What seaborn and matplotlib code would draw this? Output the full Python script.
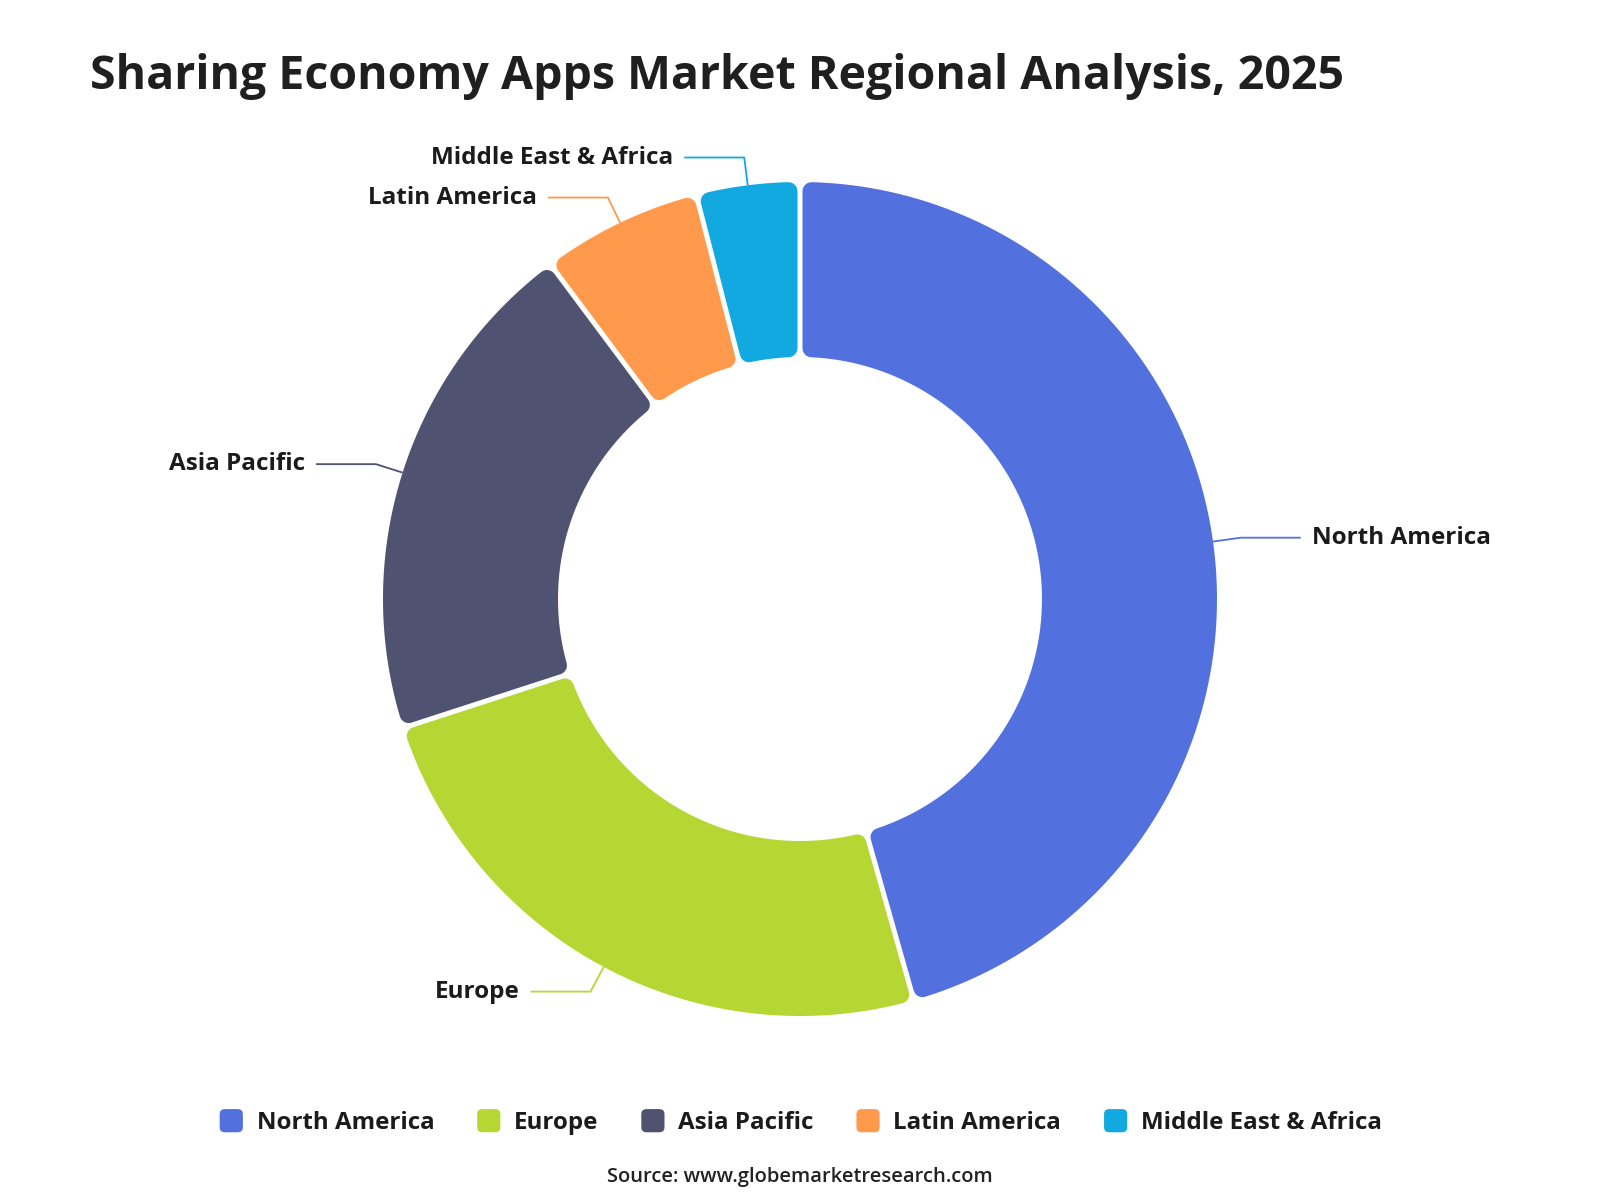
import numpy as np
import matplotlib
matplotlib.use("Agg")
import matplotlib.pyplot as plt
from matplotlib.patches import Polygon, Patch, FancyBboxPatch
from matplotlib.legend_handler import HandlerPatch
import seaborn as sns

# ---------------------------------------------------------------------------
# Data
# ---------------------------------------------------------------------------
TITLE   = "Sharing Economy Apps Market Regional Analysis, 2025"
SOURCE  = "Source: www.globemarketresearch.com"
REGIONS = ["North America", "Europe", "Asia Pacific", "Latin America", "Middle East & Africa"]
SHARES  = [45.6, 24.4, 19.8, 6.2, 4.0]
COLORS  = ["#5271DF", "#B6D733", "#505272", "#FF9A4D", "#11A9E0"]

# ---------------------------------------------------------------------------
# Style / layout (pixel coordinates, 1600x1200 canvas)
# ---------------------------------------------------------------------------
sns.set_theme(style="white")
plt.rcParams["font.family"] = ["Open Sans", "DejaVu Sans"]

CX, CY    = 800, 599
R_OUT     = 417
R_IN      = 242
CORNER    = 9      # corner rounding radius (px)
GAP       = 5      # white gap between slices (px)
LEAD1     = 28     # radial part of leader line
LEAD2     = 60     # horizontal part of leader line
TEXT_DARK = "#1b1b1b"

palette = sns.color_palette(COLORS)


def pt(angle, r):
    """angle in radians, clockwise from 12 o'clock"""
    return CX + r * np.sin(angle), CY - r * np.cos(angle)


def slice_poly(a0, a1):
    # eroded annular sector; the stroke (round joins) grows it back with rounded corners
    e = CORNER + GAP / 2
    ro, ri = R_OUT - CORNER, R_IN + CORNER
    do, di = np.arcsin(e / ro), np.arcsin(e / ri)
    outer = np.linspace(a0 + do, a1 - do, 120)
    inner = np.linspace(a1 - di, a0 + di, 80)
    xs = np.concatenate([CX + ro * np.sin(outer), CX + ri * np.sin(inner)])
    ys = np.concatenate([CY - ro * np.cos(outer), CY - ri * np.cos(inner)])
    return np.column_stack([xs, ys])


fig = plt.figure(figsize=(16, 12), dpi=100)
ax = fig.add_axes([0, 0, 1, 1])
ax.set_xlim(0, 1600)
ax.set_ylim(1200, 0)
ax.axis("off")

fracs = np.array(SHARES) / sum(SHARES)
bounds = np.concatenate([[0], np.cumsum(fracs)]) * 2 * np.pi
lw = 2 * CORNER * 72 / fig.dpi

for name, c, a0, a1 in zip(REGIONS, palette, bounds[:-1], bounds[1:]):
    ax.add_patch(Polygon(slice_poly(a0, a1), closed=True, facecolor=c, edgecolor=c,
                         linewidth=lw, joinstyle="round"))

    # leader line + label
    mid = (a0 + a1) / 2
    x0, y0 = pt(mid, R_OUT)
    x1, y1 = pt(mid, R_OUT + LEAD1)
    side = 1 if np.sin(mid) >= 0 else -1
    x2 = x1 + side * LEAD2
    ax.plot([x0, x1, x2], [y0, y1, y1], color=c, lw=1.3, solid_capstyle="butt")
    ax.text(x2 + side * 11, y1, name, ha="left" if side > 0 else "right", va="center",
            fontsize=17.5, fontweight="bold", color=TEXT_DARK)

# title + source
ax.text(90, 89, TITLE, ha="left", va="baseline", fontsize=33.5, fontweight="bold", color="#1f1f1f")
ax.text(CX, 1177, SOURCE, ha="center", va="center", fontsize=14.5, fontweight="semibold", color="#222222")


# legend with rounded square swatches
def round_box(legend, orig_handle, xdescent, ydescent, width, height, fontsize):
    s = min(width, height)
    return FancyBboxPatch((-xdescent + (width - s) / 2, -ydescent + (height - s) / 2), s, s,
                          boxstyle=f"round,pad=0,rounding_size={s * 0.22}")


handles = [Patch(facecolor=c, edgecolor="none") for c in palette]
leg = ax.legend(handles, REGIONS, loc="center", bbox_to_anchor=(0.5, 1 - 1122 / 1200),
                ncol=5, frameon=False, fontsize=17.4, handlelength=1.1, handleheight=1.1,
                handletextpad=0.5, columnspacing=1.7,
                handler_map={Patch: HandlerPatch(patch_func=round_box)})
for t in leg.get_texts():
    t.set_fontweight("bold")
    t.set_color(TEXT_DARK)

fig.savefig("out.png", dpi=100, facecolor="white")
